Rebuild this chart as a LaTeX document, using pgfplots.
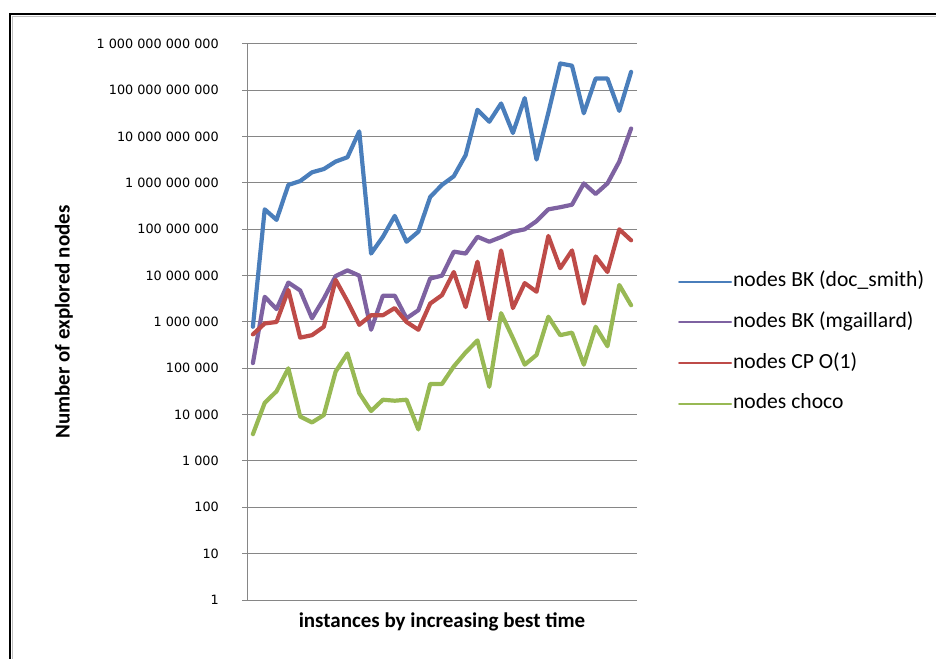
\documentclass[border=0pt]{standalone}
\usepackage{pgfplots}
\pgfplotsset{compat=1.18}
\usepackage{pgfplotstable}
\usepackage{fontspec}
\setmainfont{Carlito}
\newfontfamily\tickfont{DejaVu Sans}
\definecolor{cblue}{HTML}{4A7EBB}
\definecolor{cpurple}{HTML}{7E62A1}
\definecolor{cred}{HTML}{BE4B48}
\definecolor{cgreen}{HTML}{98B954}
\definecolor{gridgray}{HTML}{868686}

\pgfplotstableread{
x a b c d
1 7.9e5 1.3e5 5.4e5 3.8e3
2 2.7e8 3.5e6 9.3e5 1.8e4
3 1.6e8 1.9e6 1.0e6 3.2e4
4 9.1e8 7.1e6 4.9e6 1.0e5
5 1.1e9 4.8e6 4.6e5 9.1e3
6 1.7e9 1.2e6 5.2e5 6.8e3
7 2.0e9 3.2e6 7.9e5 9.8e3
8 2.9e9 9.8e6 8.1e6 8.5e4
9 3.6e9 1.3e7 2.8e6 2.1e5
10 1.3e10 1.0e7 8.7e5 2.9e4
11 3.0e7 6.8e5 1.4e6 1.2e4
12 6.9e7 3.7e6 1.4e6 2.1e4
13 1.95e8 3.7e6 2.0e6 2.0e4
14 5.4e7 1.2e6 1.0e6 2.1e4
15 8.9e7 1.8e6 6.8e5 4.8e3
16 5.0e8 8.7e6 2.5e6 4.6e4
17 9.1e8 1.0e7 3.8e6 4.6e4
18 1.4e9 3.3e7 1.2e7 1.1e5
19 4.0e9 3.0e7 2.1e6 2.2e5
20 3.8e10 6.9e7 2.0e7 4.0e5
21 2.1e10 5.4e7 1.15e6 4.0e4
22 5.2e10 6.8e7 3.5e7 1.55e6
23 1.2e10 8.9e7 2.0e6 4.5e5
24 6.8e10 1.0e8 6.9e6 1.2e5
25 3.2e9 1.5e8 4.5e6 1.95e5
26 3.3e10 2.7e8 7.2e7 1.3e6
27 3.8e11 3.0e8 1.45e7 5.2e5
28 3.4e11 3.4e8 3.5e7 5.9e5
29 3.2e10 9.8e8 2.5e6 1.2e5
30 1.8e11 5.8e8 2.6e7 7.9e5
31 1.8e11 9.8e8 1.2e7 3.0e5
32 3.6e10 2.9e9 1.0e8 6.3e6
33 2.5e11 1.5e10 5.8e7 2.3e6
}\data

\begin{document}
\begin{tikzpicture}
\path[use as bounding box] (0,0) rectangle (936bp,659bp);
\draw[black, line width=2bp] (10bp,0) -- (10bp,645bp) -- (936bp,645bp);
\draw[gray!50, line width=1bp] (12.5bp,0) -- (12.5bp,642.5bp) -- (936bp,642.5bp);
\begin{axis}[
  at={(247bp,59bp)}, anchor=south west,
  scale only axis, width=390bp, height=556bp,
  ymode=log, ymin=1, ymax=1e12,
  xmin=0.5, xmax=33.5,
  xtick=\empty,
  ytick={1,10,100,1000,1e4,1e5,1e6,1e7,1e8,1e9,1e10,1e11,1e12},
  yticklabels={1,10,100,1 000,10 000,100 000,1 000 000,10 000 000,100 000 000,1 000 000 000,10 000 000 000,100 000 000 000,1 000 000 000 000},
  yminorticks=false,
  axis lines*=left,
  axis line style={gridgray, line width=1bp},
  ymajorgrids,
  grid style={gridgray, line width=1bp},
  tick style={gridgray, line width=1bp},
  tick align=outside,
  major tick length=5bp,
  yticklabel style={font=\tickfont\fontsize{12.8bp}{14bp}\selectfont, anchor=east, inner sep=0bp, xshift=-23bp, text=black},
  ylabel={Number of explored nodes},
  ylabel style={font=\bfseries\fontsize{21bp}{24bp}\selectfont, at={(axis description cs:-0.4692,0.5)}, anchor=center},
  xlabel={instances by increasing best time},
  xlabel style={font=\bfseries\fontsize{21bp}{24bp}\selectfont, at={(axis description cs:0.5,-0.0396)}, anchor=center},
  legend style={at={(axis description cs:1.105,0.4626)}, anchor=west, draw=none, fill=none,
    font=\fontsize{21.6bp}{24bp}\selectfont, inner sep=0pt, row sep=18.7bp,
    nodes={inner sep=1bp, text height=15bp, text depth=5bp}},
  legend cell align=left,
  legend image code/.code={\draw[#1, line width=2bp] (0bp,0bp) -- (52bp,0bp);},
  every axis plot/.append style={line width=4.2bp, line join=round, line cap=round, mark=none},
  clip=false,
]
\addplot[cblue] table[x=x, y=a] {\data};
\addlegendentry{nodes BK (doc\_smith)}
\addplot[cpurple] table[x=x, y=b] {\data};
\addlegendentry{nodes BK (mgaillard)}
\addplot[cred] table[x=x, y=c] {\data};
\addlegendentry{nodes CP O(1)}
\addplot[cgreen] table[x=x, y=d] {\data};
\addlegendentry{nodes choco}
\end{axis}
\end{tikzpicture}
\end{document}
